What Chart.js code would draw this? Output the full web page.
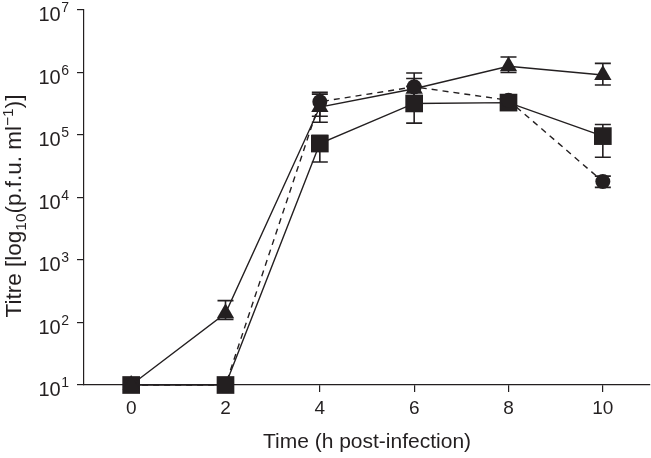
<!DOCTYPE html>
<html>
<head>
<meta charset="utf-8">
<script src="https://cdn.jsdelivr.net/npm/chart.js@4"></script>
<style>
  html, body { margin: 0; padding: 0; background: #fff; }
  #wrap { width: 651px; height: 458px; }
</style>
</head>
<body>
<div id="wrap"><canvas id="chart" width="651" height="458"></canvas></div>
<script>
// time points (h post-infection)
const hours = [0, 2, 4, 6, 8, 10];
const xTicks = [0, 2, 4, 6, 8, 10];
const yPowers = [1, 2, 3, 4, 5, 6, 7];

// triangles, solid line
const triangleTitre = [10, 140, 2.8e5, 5.5e5, 1.26e6, 9.1e5];
const triangleLow = [null, 112, 1.6e5, 3.5e5, 1.0e6, 6.3e5];
const triangleHigh = [null, 224, 4.8e5, 9.8e5, 1.77e6, 1.4e6];

// circles, dashed line
const circleTitre = [10, 10, 3.4e5, 5.9e5, 3.6e5, 1.8e4];
const circleLow = [null, null, 2.0e5, 4.0e5, 3.0e5, 1.45e4];
const circleHigh = [null, null, 4.5e5, 8.0e5, 4.2e5, 2.2e4];

// squares, solid line
const squareTitre = [10, 10, 7.3e4, 3.2e5, 3.3e5, 9.6e4];
const squareLow = [null, null, 3.7e4, 1.55e5, 3.0e5, 4.4e4];
const squareHigh = [null, null, 9.8e4, 6.0e5, 3.6e5, 1.47e5];

const INK = '#231f20';
const FONT = '"Liberation Sans", Arial, Helvetica, sans-serif';

function pts(vals) {
  return hours.map((h, i) => ({x: h, y: vals[i]}));
}

function series(label, vals, low, high, style, radius, dash) {
  return {
    label: label,
    data: pts(vals),
    errLow: low,
    errHigh: high,
    borderColor: INK,
    backgroundColor: INK,
    borderWidth: 1.4,
    borderDash: dash,
    pointStyle: style,
    pointRadius: radius,
    pointHoverRadius: radius,
    pointBackgroundColor: INK,
    pointBorderColor: INK,
    pointBorderWidth: 0,
    clip: false,
    tension: 0
  };
}

// vertical error bars with caps, drawn under the markers
const errorBars = {
  id: 'errorBars',
  beforeDatasetsDraw(chart) {
    const ctx = chart.ctx;
    const xs = chart.scales.x, ys = chart.scales.y;
    ctx.save();
    ctx.strokeStyle = INK;
    ctx.lineWidth = 1.6;
    chart.data.datasets.forEach(ds => {
      hours.forEach((h, i) => {
        if (ds.errLow[i] == null) return;
        const x = xs.getPixelForValue(h);
        const y1 = ys.getPixelForValue(ds.errLow[i]);
        const y2 = ys.getPixelForValue(ds.errHigh[i]);
        ctx.beginPath();
        ctx.moveTo(x, y1); ctx.lineTo(x, y2);
        ctx.moveTo(x - 8, y1); ctx.lineTo(x + 8, y1);
        ctx.moveTo(x - 8, y2); ctx.lineTo(x + 8, y2);
        ctx.stroke();
      });
    });
    ctx.restore();
  }
};

// y tick labels as 10 with a superscript, plus both axis titles
const labels = {
  id: 'labels',
  afterDraw(chart) {
    const ctx = chart.ctx;
    const ys = chart.scales.y, xs = chart.scales.x;
    ctx.save();
    ctx.fillStyle = INK;
    ctx.textBaseline = 'alphabetic';
    yPowers.forEach(p => {
      const y = ys.getPixelForValue(Math.pow(10, p));
      ctx.font = '14px ' + FONT;
      const sup = String(p);
      const ws = ctx.measureText(sup).width;
      const sx = 69 - ws;
      ctx.textAlign = 'left';
      ctx.fillText(sup, sx, y + 2);
      ctx.font = '20px ' + FONT;
      ctx.textAlign = 'right';
      ctx.fillText('10', sx - 0.5, y + 11);
    });

    // x title
    ctx.font = '21px ' + FONT;
    ctx.textAlign = 'center';
    ctx.fillText('Time (h post-infection)', (xs.left + xs.right) / 2, 448);

    // y title, rotated, with sub and superscript
    const parts = [
      {t: 'Titre [log', s: 22.5, dy: 0},
      {t: '10', s: 15.5, dy: 5},
      {t: '(p.f.u. ml', s: 22.5, dy: 0},
      {t: '\u22121', s: 15.5, dy: -8.5},
      {t: ')]', s: 22.5, dy: 0}
    ];
    let total = 0;
    parts.forEach(pt => { ctx.font = pt.s + 'px ' + FONT; pt.w = ctx.measureText(pt.t).width; total += pt.w; });
    ctx.translate(21, 206);
    ctx.rotate(-Math.PI / 2);
    ctx.textAlign = 'left';
    let cx = -total / 2;
    parts.forEach(pt => {
      ctx.font = pt.s + 'px ' + FONT;
      ctx.fillText(pt.t, cx, pt.dy);
      cx += pt.w;
    });
    ctx.restore();
  }
};

new Chart(document.getElementById('chart'), {
  type: 'line',
  data: {
    datasets: [
      series('Triangles', triangleTitre, triangleLow, triangleHigh, 'triangle', 10, []),
      series('Circles', circleTitre, circleLow, circleHigh, 'circle', 7.5, [6, 5]),
      series('Squares', squareTitre, squareLow, squareHigh, 'rect', 12.5, [])
    ]
  },
  options: {
    responsive: false,
    animation: false,
    events: [],
    layout: {autoPadding: false, padding: {top: 10, right: 1, left: 0, bottom: 0}},
    plugins: {legend: {display: false}, tooltip: {enabled: false}},
    scales: {
      x: {
        type: 'linear',
        min: -1,
        max: 11,
        afterBuildTicks(scale) { scale.ticks = xTicks.map(v => ({value: v})); },
        afterFit(scale) { scale.height = 73; scale.paddingLeft = 0; scale.paddingRight = 0; },
        grid: {display: true, drawOnChartArea: false, drawTicks: true, tickLength: 7, color: INK, lineWidth: 1.2},
        border: {display: true, color: INK, width: 1.2},
        ticks: {color: INK, font: {family: FONT, size: 19}, padding: 5, maxRotation: 0}
      },
      y: {
        type: 'logarithmic',
        min: 10,
        max: 1e7,
        afterBuildTicks(scale) { scale.ticks = yPowers.map(p => ({value: Math.pow(10, p)})); },
        afterFit(scale) { scale.width = 84; scale.paddingTop = 0; scale.paddingBottom = 0; },
        grid: {display: true, drawOnChartArea: false, drawTicks: true, tickLength: 7, color: INK, lineWidth: 1.2},
        border: {display: true, color: INK, width: 1.2},
        ticks: {display: false}
      }
    }
  },
  plugins: [errorBars, labels]
});
</script>
</body>
</html>
